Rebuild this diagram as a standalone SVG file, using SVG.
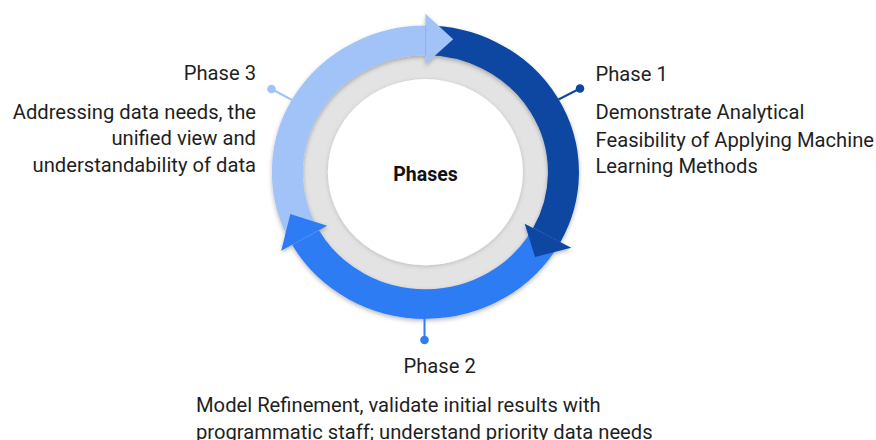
<svg xmlns="http://www.w3.org/2000/svg" width="876" height="440" viewBox="0 0 876 440">
  <defs>
    <style>
      .lbl { font-family: Roboto, "Liberation Sans", Arial, sans-serif; font-size: 20.2px; fill: #1f1f1f; }
      .title { font-family: Roboto, "Liberation Sans", Arial, sans-serif; font-size: 19.5px; font-weight: bold; fill: #111111; }
      .band { fill: none; stroke-width: 31; stroke-linecap: butt; }
      .p1 { stroke: #0D47A1; }
      .p2 { stroke: #2F7CF3; }
      .p3 { stroke: #A2C3F7; }
      .h1 { fill: #0D47A1; }
      .h2 { fill: #2F7CF3; }
      .h3 { fill: #A2C3F7; }
    </style>
    <filter id="soft" x="-20%" y="-20%" width="140%" height="140%">
      <feDropShadow dx="0" dy="2" stdDeviation="2.2" flood-color="#000000" flood-opacity="0.28"/>
    </filter>
    <filter id="hole" x="-20%" y="-20%" width="140%" height="140%">
      <feDropShadow dx="0" dy="1" stdDeviation="2" flood-color="#000000" flood-opacity="0.18"/>
    </filter>
  </defs>

  <rect width="876" height="440" fill="#ffffff"/>

  <!-- central cycle: ring, three phase arcs with arrowheads -->
  <g id="cycle" transform="translate(425.4,172.2) scale(1,0.955)">
    <circle r="130" fill="#E3E3E3"/>
    <circle id="hub" r="97.5" fill="#ffffff" filter="url(#hole)"/>
    <g filter="url(#soft)">
      <!-- arc bodies -->
      <path class="band p1" d="M 0 -138 A 138 138 0 0 1 121.3 65.9"/>
      <path class="band p2" d="M 121.3 65.9 A 138 138 0 0 1 -119.9 68.4"/>
      <path class="band p3" d="M -119.9 68.4 A 138 138 0 0 1 0 -138"/>
      <!-- arrowheads -->
      <polygon class="h1" points="99.3,53.9 145.9,79.2 109.6,88.7"/>
      <polygon class="h2" points="-98.2,56.0 -144.2,82.3 -135.1,43.9"/>
      <polygon class="h3" points="0,-113 0,-166 27.8,-139.2"/>
    </g>
  </g>

  <g id="center-label">
    <text class="title" x="425.5" y="181" text-anchor="middle">Phases</text>
  </g>

  <!-- leader lines to the phase labels -->
  <g id="connectors">
    <line x1="558.5" y1="99.5" x2="580" y2="88.5" stroke="#0D47A1" stroke-width="2"/>
    <circle cx="580" cy="88.5" r="4.3" fill="#0D47A1"/>
    <line x1="424.5" y1="316" x2="424.5" y2="340" stroke="#2F7CF3" stroke-width="2"/>
    <circle cx="424.5" cy="340" r="4.3" fill="#2F7CF3"/>
    <line x1="292" y1="100" x2="271.5" y2="89" stroke="#A2C3F7" stroke-width="2"/>
    <circle cx="271.5" cy="89" r="4.3" fill="#A2C3F7"/>
  </g>

  <g id="phase1">
    <text class="lbl" x="595.5" y="80.5">Phase 1</text>
    <text class="lbl" x="595.5" y="119">Demonstrate Analytical</text>
    <text class="lbl" x="595.5" y="146.5">Feasibility of Applying Machine</text>
    <text class="lbl" x="595.5" y="173">Learning Methods</text>
  </g>

  <g id="phase2">
    <text class="lbl" x="403.5" y="373">Phase 2</text>
    <text class="lbl" x="196" y="411.5">Model Refinement, validate initial results with</text>
    <text class="lbl" x="196" y="438.5">programmatic staff; understand priority data needs</text>
  </g>

  <g id="phase3">
    <text class="lbl" x="256" y="80" text-anchor="end">Phase 3</text>
    <text class="lbl" x="256" y="118.5" text-anchor="end">Addressing data needs, the</text>
    <text class="lbl" x="256" y="145" text-anchor="end">unified view and</text>
    <text class="lbl" x="256" y="171.5" text-anchor="end">understandability of data</text>
  </g>
</svg>
